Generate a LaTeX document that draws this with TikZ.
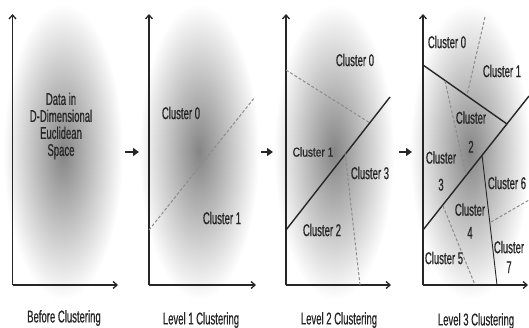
\documentclass[tikz,border=0pt]{standalone}
\usepackage{fontspec}
\setmainfont{Liberation Sans}[FakeStretch=0.56, FakeBold=0.6]
\newfontfamily\wideface{Liberation Sans}[FakeStretch=0.78, FakeBold=0.6]
\usetikzlibrary{arrows.meta,positioning}

\begin{document}
\begin{tikzpicture}[
    x=1pt, y=-1pt,
    blob/.style={inner color=black!48, outer color=white},
    axis/.style={-{Straight Barb[length=4pt,width=7pt]}, line width=1.3pt, black!85},
    split/.style={line width=1.4pt, black!85},
    thin/.style={line width=0.9pt, black!85},
    cut/.style={line width=1pt, black!45, dash pattern=on 3pt off 2pt},
    lbl/.style={inner sep=0pt, align=center, text=black!85, font=\fontsize{17}{17}\selectfont},
    next/.style={-{Triangle[length=6pt,width=8pt]}, line width=2.4pt, black!85}
]
    \useasboundingbox (0,0) rectangle (529,328);

    % Before Clustering
    \shade[blob] (63,152) ellipse [x radius=60pt, y radius=148pt];
    \draw[axis] (12.5,285) -- (12.5,14);
    \draw[axis] (12.5,285) -- (118,285);
    \node[lbl] (p0txt) at (61,126) {Data in\\D-Dimensional\\Euclidean\\Space};
    \node[lbl] (cap0) at (64,318) {Before Clustering};

    % Level 1
    \shade[blob] (199,152) ellipse [x radius=60pt, y radius=148pt];
    \draw[axis] (149,285) -- (149,14);
    \draw[axis] (149,285) -- (256,285);
    \draw[cut] (149,230) -- (255,97);
    \node[lbl] (l1c0) at (181,113) {Cluster 0};
    \node[lbl] (l1c1) at (222,218) {Cluster 1};
    \node[lbl] (cap1) at (201,320) {Level 1 Clustering};

    % Level 2
    \shade[blob] (334,152) ellipse [x radius=60pt, y radius=148pt];
    \draw[axis] (286,285) -- (286,14);
    \draw[axis] (286,285) -- (391,285);
    \draw[split] (286,230) -- (390,97);
    \draw[cut] (286,70) -- (370,123);
    \draw[cut] (345,153) -- (360,285);
    \node[lbl] (l2c0) at (355,60) {Cluster 0};
    \node[lbl, font=\wideface\fontsize{13}{13}\selectfont] (l2c1) at (313,152) {Cluster 1};
    \node[lbl] (l2c3) at (370,173) {Cluster 3};
    \node[lbl] (l2c2) at (322,230) {Cluster 2};
    \node[lbl] (cap2) at (339,320) {Level 2 Clustering};

    % Level 3
    \shade[blob] (470,152) ellipse [x radius=60pt, y radius=148pt];
    \draw[axis] (423,285) -- (423,14);
    \draw[axis] (423,285) -- (528,285);
    \draw[split] (423,230) -- (529,96);
    \draw[split] (423,65) -- (507,124);
    \draw[thin] (482,155) -- (497,285);
    \draw[cut] (485,17) -- (467,95);
    \draw[cut] (445,81) -- (466,175);
    \draw[cut] (443,206) -- (475,285);
    \draw[cut] (491,222) -- (529,200);
    \node[lbl] (l3c0) at (447,42) {Cluster 0};
    \node[lbl] (l3c1) at (502,71) {Cluster 1};
    \node[lbl] (l3c2) at (471,132) {Cluster\\[12pt]2};
    \node[lbl] (l3c3) at (441,171) {Cluster\\[10pt]3};
    \node[lbl] (l3c6) at (507,183) {Cluster 6};
    \node[lbl] (l3c4) at (470,221) {Cluster\\[6pt]4};
    \node[lbl] (l3c5) at (444,258) {Cluster 5};
    \node[lbl] (l3c7) at (509,257) {Cluster\\[3pt]7};
    \node[lbl] (cap3) at (476,321) {Level 3 Clustering};

    % steps between levels
    \coordinate (s0) at (125,152);
    \coordinate (e0) at (139,152);
    \coordinate (s1) at (261,152);
    \coordinate (e1) at (273,152);
    \coordinate (s2) at (399,152);
    \coordinate (e2) at (412,152);
    \draw[next] (s0) -- (e0);
    \draw[next] (s1) -- (e1);
    \draw[next] (s2) -- (e2);
\end{tikzpicture}
\end{document}
